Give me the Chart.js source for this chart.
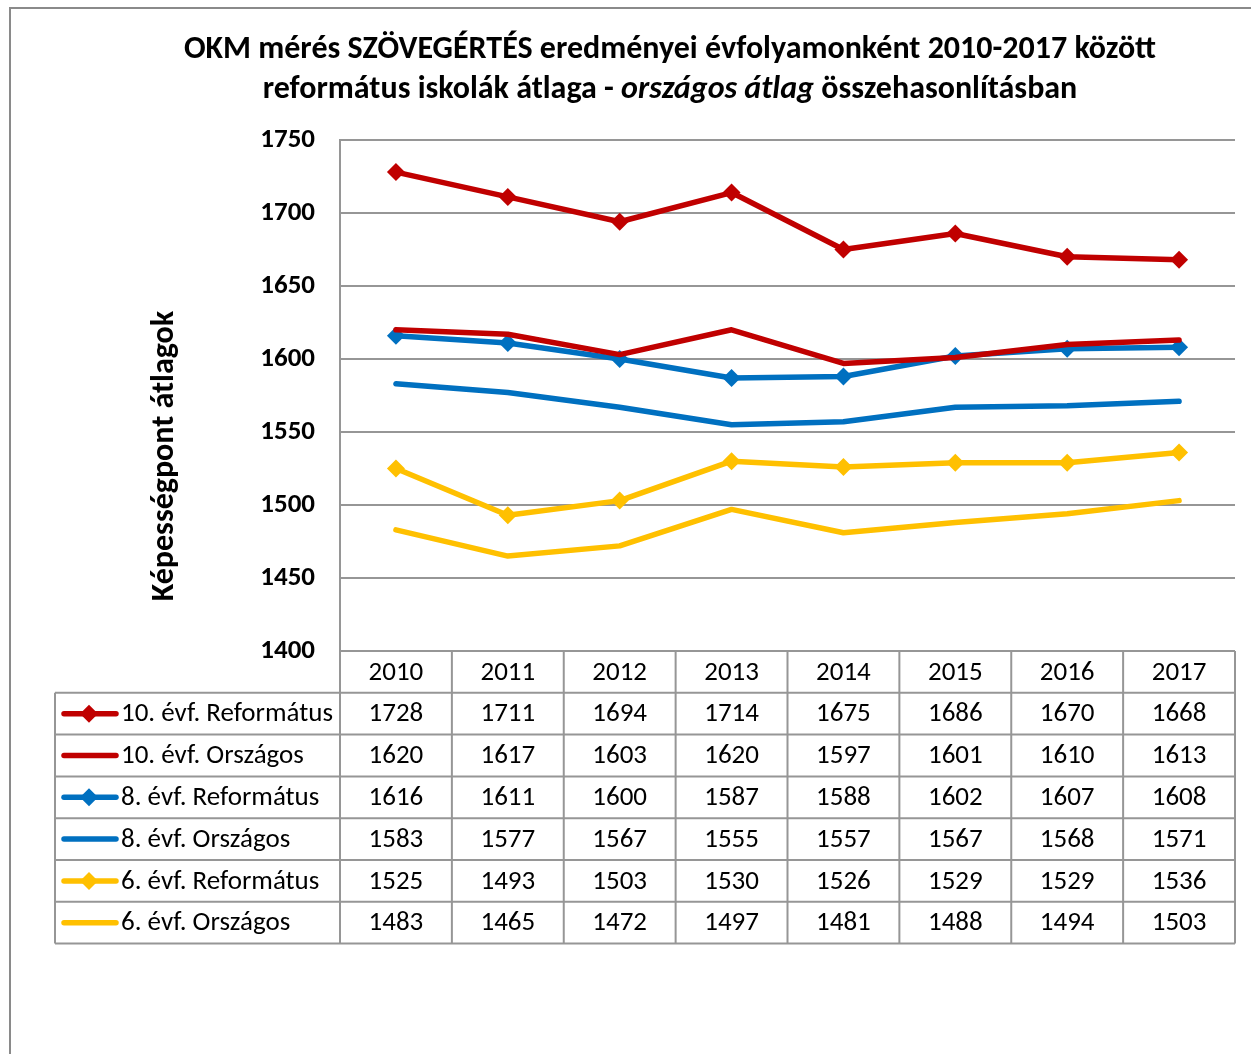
<!DOCTYPE html>
<html><head><meta charset="utf-8">
<script src="https://cdn.jsdelivr.net/npm/chart.js@4/dist/chart.umd.min.js"></script>
<style>html,body{margin:0;padding:0;background:#fff;overflow:hidden}canvas{display:block}</style>
</head><body>
<canvas id="c" width="1251" height="1054"></canvas>
<script>
const years = ['2010','2011','2012','2013','2014','2015','2016','2017'];
const seriesNames = ['10. évf. Református','10. évf. Országos','8. évf. Református','8. évf. Országos','6. évf. Református','6. évf. Országos'];
const ref10 = [1728,1711,1694,1714,1675,1686,1670,1668];
const orsz10 = [1620,1617,1603,1620,1597,1601,1610,1613];
const ref8 = [1616,1611,1600,1587,1588,1602,1607,1608];
const orsz8 = [1583,1577,1567,1555,1557,1567,1568,1571];
const ref6 = [1525,1493,1503,1530,1526,1529,1529,1536];
const orsz6 = [1483,1465,1472,1497,1481,1488,1494,1503];
const yTicks = [1400,1450,1500,1550,1600,1650,1700,1750];
const titleLine1 = 'OKM mérés SZÖVEGÉRTÉS eredményei évfolyamonként 2010-2017 között';
const titleLine2 = [['református iskolák átlaga - ', false], ['országos átlag', true], [' összehasonlításban', false]];
const yTitle = 'Képességpont átlagok';

const RED='#C00000', BLUE='#0070C0', YEL='#FFC000';
const FONT = 'Carlito, Lato, "Open Sans", sans-serif';
const allData = [ref10, orsz10, ref8, orsz8, ref6, orsz6];
const colors = [RED, RED, BLUE, BLUE, YEL, YEL];
const markers = [true,false,true,false,true,false];

const datasets = allData.map((d,i)=>({
  label: seriesNames[i], data: d, borderColor: colors[i], backgroundColor: colors[i],
  borderWidth: 5.5, pointStyle: 'rectRot', pointRadius: markers[i]?9:0, pointHoverRadius: markers[i]?9:0,
  pointBorderWidth: 0, tension: 0, borderCapStyle: 'round', borderJoinStyle: 'round'
}));

const GRID='#969696';
const tablePlugin = {
  id: 'tablePlugin',
  afterDraw(chart){
    const ctx = chart.ctx, xs = chart.scales.x, ys = chart.scales.y, ca = chart.chartArea;
    ctx.save();
    // frame
    ctx.strokeStyle = '#8a8a8a'; ctx.lineWidth = 2;
    ctx.beginPath(); ctx.moveTo(10,1054); ctx.lineTo(10,8); ctx.lineTo(1251,8); ctx.stroke();
    // title
    ctx.fillStyle = '#000'; ctx.textBaseline = 'middle'; ctx.textAlign='center';
    ctx.font = 'bold 32px ' + FONT;
    ctx.fillText(titleLine1, 670, 50);
    let total = 0;
    titleLine2.forEach(([t,it])=>{ ctx.font = (it?'italic ':'')+'bold 32px '+FONT; total += ctx.measureText(t).width; });
    let x = 670 - total/2; ctx.textAlign='left';
    titleLine2.forEach(([t,it])=>{ ctx.font = (it?'italic ':'')+'bold 32px '+FONT; ctx.fillText(t, x, 90); x += ctx.measureText(t).width; });
    // y title
    ctx.save(); ctx.translate(165, 456); ctx.rotate(-Math.PI/2);
    ctx.textAlign='center'; ctx.font = 'bold 32px ' + FONT; ctx.fillText(yTitle, 0, 0); ctx.restore();
    // table
    const n = years.length;
    const cw = (ca.right - ca.left)/n;
    const bounds = [];
    for (let i=0;i<=n;i++) bounds.push(i<n ? xs.getPixelForValue(i) - cw/2 : xs.getPixelForValue(n-1) + cw/2);
    const top = ca.bottom, rowH = 41.8, tableLeft = 55;
    const rows = seriesNames.length;
    const bottom = top + rowH*(rows+1);
    ctx.strokeStyle = GRID; ctx.lineWidth = 2;
    ctx.beginPath();
    bounds.forEach(b=>{ ctx.moveTo(b, top); ctx.lineTo(b, bottom); });
    for (let r=1;r<=rows+1;r++){ const y = top + rowH*r; ctx.moveTo(tableLeft, y); ctx.lineTo(bounds[n], y); }
    ctx.moveTo(tableLeft, top+rowH); ctx.lineTo(tableLeft, bottom);
    ctx.stroke();
    ctx.font = '27px ' + FONT; ctx.textAlign='center'; ctx.fillStyle='#000';
    years.forEach((yr,i)=> ctx.fillText(yr, xs.getPixelForValue(i), top + rowH*0.5 + 1));
    for (let r=0;r<rows;r++){
      const cy = top + rowH*(r+1.5);
      ctx.textAlign='center'; ctx.fillStyle='#000';
      allData[r].forEach((v,i)=> ctx.fillText(String(v), xs.getPixelForValue(i), cy+1));
      ctx.strokeStyle = colors[r]; ctx.lineWidth = 5.5; ctx.lineCap='round';
      ctx.beginPath(); ctx.moveTo(64, cy); ctx.lineTo(116, cy); ctx.stroke();
      if (markers[r]){
        ctx.fillStyle = colors[r]; ctx.beginPath();
        ctx.moveTo(89, cy-9); ctx.lineTo(98, cy); ctx.lineTo(89, cy+9); ctx.lineTo(80, cy); ctx.closePath(); ctx.fill();
      }
      ctx.fillStyle='#000'; ctx.textAlign='left';
      ctx.fillText(seriesNames[r], 121, cy+1);
    }
    ctx.restore();
  }
};

new Chart(document.getElementById('c'), {
  type: 'line',
  data: { labels: years, datasets },
  options: {
    responsive: false, animation: false, devicePixelRatio: 1,
    layout: { padding: { left: 0, top: 140, right: 16, bottom: 403 } },
    plugins: { legend: { display: false }, title: { display: false }, tooltip: { enabled: false } },
    scales: {
      x: { type: 'category', offset: true, display: false },
      y: {
        min: 1400, max: 1750,
        afterFit(s){ s.width = 340; },
        afterBuildTicks(s){ s.ticks = yTicks.map(v=>({value:v})); },
        grid: { color: GRID, lineWidth: 2, drawTicks: false },
        border: { display: true, color: GRID, width: 2 },
        ticks: { padding: 25, color: '#000', callback: v => String(v), font: { family: FONT, size: 27, weight: 'bold' } }
      }
    }
  },
  plugins: [tablePlugin]
});
</script>
</body></html>
